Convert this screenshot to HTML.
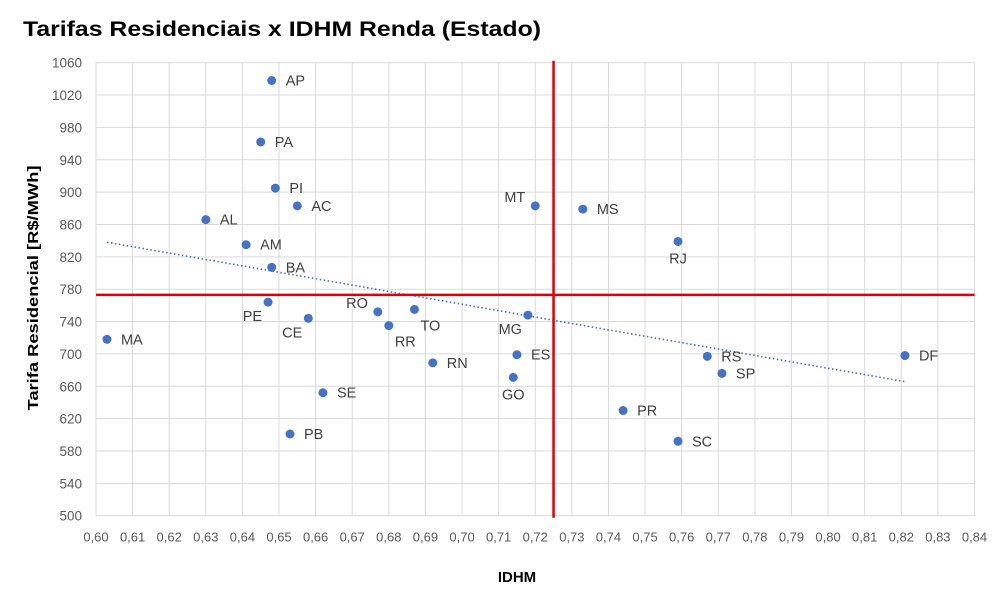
<!DOCTYPE html>
<html><head><meta charset="utf-8"><style>
body{margin:0;background:#fff;font-family:"Liberation Sans",sans-serif;}
svg text{font-family:"Liberation Sans",sans-serif;}
</style></head><body>
<svg id="chart" width="1002" height="593" xmlns="http://www.w3.org/2000/svg">
<text x="23" y="36" font-size="21" font-weight="bold" fill="#000" textLength="518" lengthAdjust="spacingAndGlyphs">Tarifas Residenciais x IDHM Renda (Estado)</text>
<g id="grid"></g><g id="trend"></g><g id="pts"></g><g id="ref"></g>
<text x="517" y="582" font-size="15" font-weight="bold" text-anchor="middle" fill="#000">IDHM</text>
<text transform="translate(38,288) rotate(-90)" font-size="15" font-weight="bold" text-anchor="middle" fill="#000" textLength="245" lengthAdjust="spacingAndGlyphs">Tarifa Residencial [R$/MWh]</text>
</svg>
<script>
const states=["AP","PA","PI","AC","AL","AM","BA","PE","CE","MA","RO","TO","RR","RN","SE","PB","MT","MS","RJ","MG","ES","GO","PR","SC","RS","SP","DF"];
const idhm=[0.648,0.645,0.649,0.655,0.630,0.641,0.648,0.647,0.658,0.603,0.677,0.687,0.680,0.692,0.662,0.653,0.720,0.733,0.759,0.718,0.715,0.714,0.744,0.759,0.767,0.771,0.821];
const tarifa=[1038,962,905,883,866,835,807,764,744,718,752,755,735,689,652,601,883,879,839,748,699,671,630,592,697,676,698];
const labelPos=["r","r","r","r","r","r","r","bl","bl","r","l","rb","rb","r","r","r","l","r","b","bl","r","b","r","r","r","r","r"];
const xTicks=[];for(let i=0;i<=24;i++)xTicks.push(0.60+i*0.01);
const yTicks=[];for(let v=500;v<=1060;v+=40)yTicks.push(v);
const refX=0.725, refY=773;
const X0=96,X1=974.5,Y0=515.7,Y1=62.7;
const xs=v=>X0+(v-0.60)/0.24*(X1-X0);
const ys=v=>Y0-(v-500)/560*(Y0-Y1);
const NS="http://www.w3.org/2000/svg";
function mk(t,a,p){const e=document.createElementNS(NS,t);for(const k in a)e.setAttribute(k,a[k]);p.appendChild(e);return e;}
const g=document.getElementById('grid');
xTicks.forEach(v=>{const l=mk('line',{x1:xs(v),x2:xs(v),y1:Y1,y2:Y0,stroke:'#d9d9d9','stroke-width':1},g);

const t=mk('text',{x:xs(v),y:Y0+26,'font-size':13,'text-anchor':'middle',fill:'#595959'},g);t.textContent=v.toFixed(2).replace('.',',');
});
yTicks.forEach(v=>{const l=mk('line',{x1:X0,x2:X1,y1:ys(v),y2:ys(v),stroke:'#d9d9d9','stroke-width':1},g);

const t=mk('text',{x:82,y:ys(v)+5,'font-size':13.5,'text-anchor':'end',fill:'#595959'},g);t.textContent=v;
});
const n=idhm.length;let sx=0,sy=0,sxx=0,sxy=0;for(let i=0;i<n;i++){sx+=idhm[i];sy+=tarifa[i];sxx+=idhm[i]*idhm[i];sxy+=idhm[i]*tarifa[i];}
const b=(n*sxy-sx*sy)/(n*sxx-sx*sx),a=(sy-b*sx)/n;
const mnx=Math.min(...idhm),mxx=Math.max(...idhm);
const tl=mk('line',{x1:xs(mnx),y1:ys(a+b*mnx),x2:xs(mxx),y2:ys(a+b*mxx),stroke:'#4472c4','stroke-width':1.6,'stroke-dasharray':'1.5 2.5'},document.getElementById('trend'));

const p=document.getElementById('pts');
states.forEach((s,i)=>{const cx=xs(idhm[i]),cy=ys(tarifa[i]);
const c=mk('circle',{cx:cx,cy:cy,r:4.5,fill:'#4472c4'},p);

let lx=cx+14,ly=cy+5,an='start';const pos=labelPos[i];
if(pos==='l'){lx=cx-10;an='end';ly=cy-4;}
if(pos==='bl'){lx=cx-6;an='end';ly=cy+19;}
if(pos==='b'){lx=cx;an='middle';ly=cy+22;}
if(pos==='rb'){lx=cx+6;ly=cy+21;}
const t=mk('text',{x:lx,y:ly,'font-size':14.5,'text-anchor':an,fill:'#404040'},p);t.textContent=s;
});
const r=document.getElementById('ref');
const v=mk('line',{x1:xs(refX),x2:xs(refX),y1:Y1-2,y2:Y0+2,stroke:'#e00000','stroke-width':2.5},r);

const h=mk('line',{x1:X0,x2:X1,y1:ys(refY),y2:ys(refY),stroke:'#e00000','stroke-width':2.5},r);

</script>
</body></html>
